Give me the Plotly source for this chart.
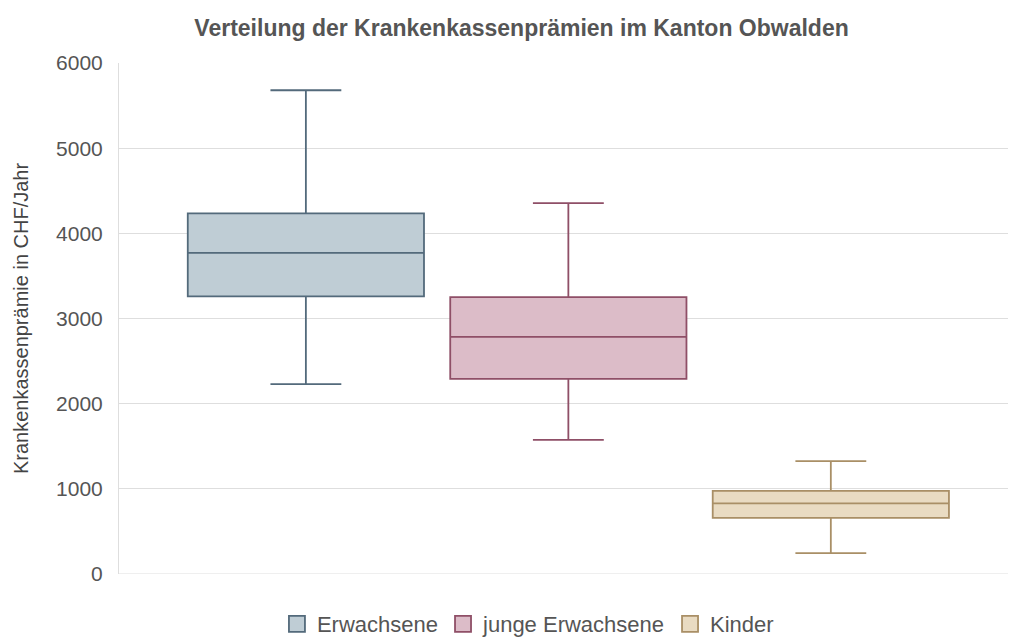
import plotly.graph_objects as go

categories = ["Erwachsene", "junge Erwachsene", "Kinder"]
lower = [2230, 1575, 245]
q1 = [3260, 2290, 660]
median = [3770, 2785, 830]
q3 = [4235, 3250, 975]
upper = [5680, 4355, 1325]

fills = ["#bfcdd5", "#dcbcc8", "#e9dbc2"]
lines = ["#536a7b", "#8f4f67", "#a98f66"]

fig = go.Figure()
for i, name in enumerate(categories):
    fig.add_trace(go.Box(
        name=name,
        x=[i],
        q1=[q1[i]], median=[median[i]], q3=[q3[i]],
        lowerfence=[lower[i]], upperfence=[upper[i]],
        fillcolor=fills[i],
        line=dict(color=lines[i], width=1.8),
        width=0.9,
        whiskerwidth=0.3,
        boxpoints=False,
        showlegend=False,
    ))
for i, name in enumerate(categories):
    fig.add_trace(go.Scatter(
        name=name, x=[None], y=[None], mode="markers",
        marker=dict(symbol="square", size=17, color=fills[i],
                    line=dict(color=lines[i], width=1.8)),
        showlegend=True,
    ))

fig.update_layout(
    width=1021, height=639,
    paper_bgcolor="white", plot_bgcolor="white",
    margin=dict(l=111, r=21, t=55, b=73, autoexpand=False),
    boxmode="overlay",
    font=dict(family="Liberation Sans, Arial, sans-serif", color="#555555"),
    title=dict(text="<b>Verteilung der Krankenkassenprämien im Kanton Obwalden</b>",
               x=0.503, xanchor="center", y=0.968, yanchor="middle",
               font=dict(size=23, color="#555555")),
    xaxis=dict(range=[-0.712, 2.675], showticklabels=False, showgrid=False,
               zeroline=False, showline=False, ticks=""),
    yaxis=dict(range=[0, 6000], dtick=1000, showgrid=True, gridcolor="#dedede",
               gridwidth=1, zeroline=False, showline=True, linecolor="#dedede",
               linewidth=1, tickfont=dict(size=21, color="#555555"),
               ticks="", ticklabelstandoff=11, automargin=False,
               title=dict(text="Krankenkassenprämie in CHF/Jahr",
                          font=dict(size=20, color="#444444"), standoff=22)),
    legend=dict(orientation="h", x=0.46, xanchor="center", y=-0.098, yanchor="middle",
                font=dict(size=22, color="#555555"), itemwidth=30),
    showlegend=True,
)
fig.add_shape(type="line", xref="paper", yref="y", x0=0, x1=1, y0=0, y1=0,
              line=dict(color="#dedede", width=1))

fig.write_html("out.html")
